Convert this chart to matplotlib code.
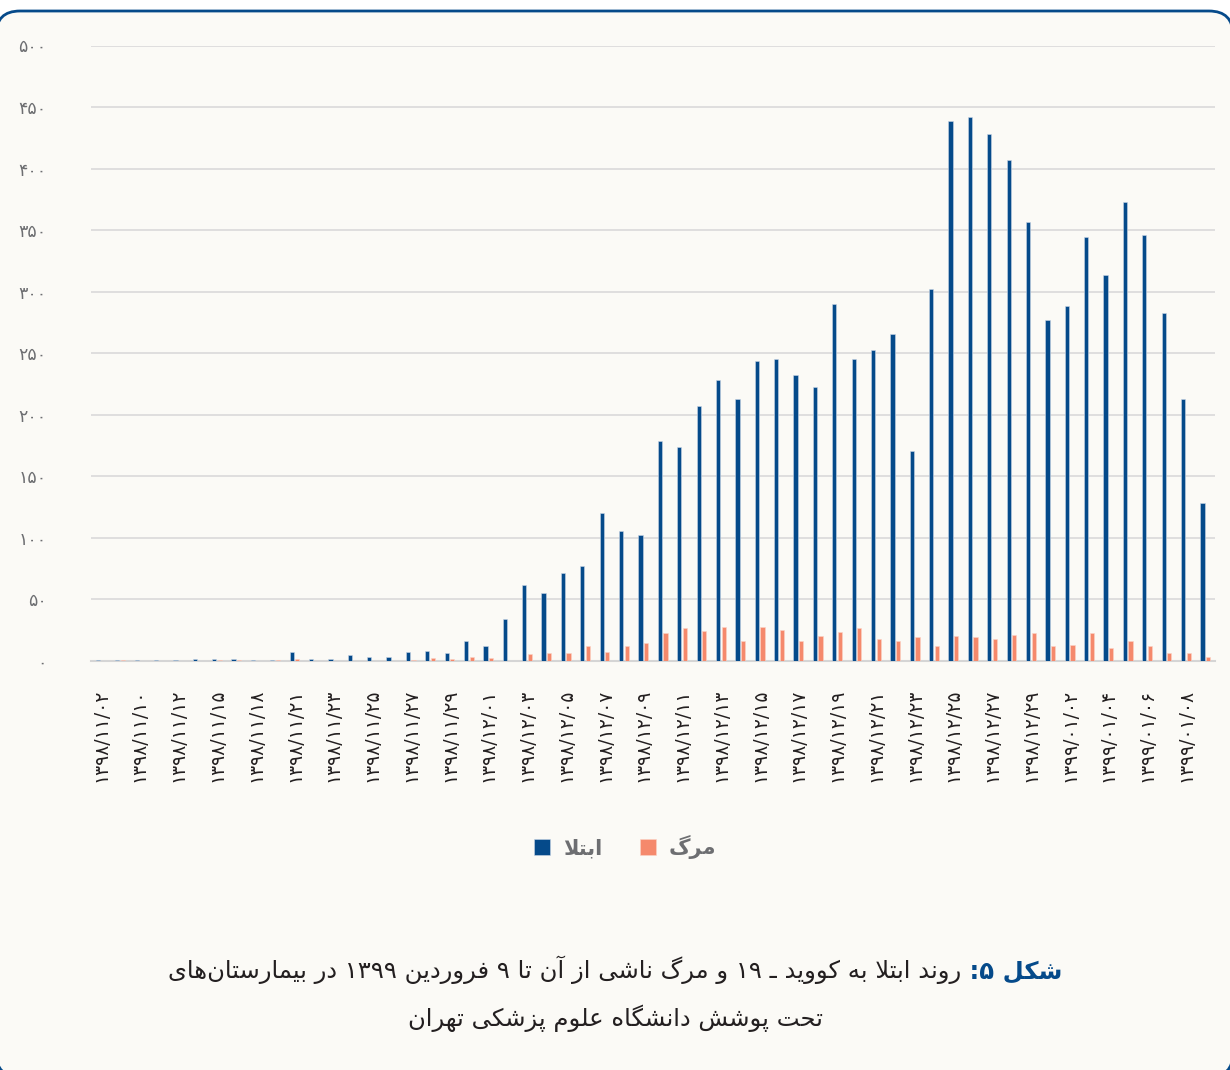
import matplotlib
matplotlib.use('Agg')
import matplotlib.pyplot as plt
import numpy as np
from matplotlib.patches import FancyBboxPatch
from matplotlib.offsetbox import TextArea, HPacker, AnnotationBbox

# data: daily counts from 1398/11/02 to 1399/01/09
dates = ['۱۳۹۸/۱۱/۰۲', '', '۱۳۹۸/۱۱/۱۰', '', '۱۳۹۸/۱۱/۱۲', '', '۱۳۹۸/۱۱/۱۵', '',
         '۱۳۹۸/۱۱/۱۸', '', '۱۳۹۸/۱۱/۲۱', '', '۱۳۹۸/۱۱/۲۳', '', '۱۳۹۸/۱۱/۲۵', '',
         '۱۳۹۸/۱۱/۲۷', '', '۱۳۹۸/۱۱/۲۹', '', '۱۳۹۸/۱۲/۰۱', '', '۱۳۹۸/۱۲/۰۳', '',
         '۱۳۹۸/۱۲/۰۵', '', '۱۳۹۸/۱۲/۰۷', '', '۱۳۹۸/۱۲/۰۹', '', '۱۳۹۸/۱۲/۱۱', '',
         '۱۳۹۸/۱۲/۱۳', '', '۱۳۹۸/۱۲/۱۵', '', '۱۳۹۸/۱۲/۱۷', '', '۱۳۹۸/۱۲/۱۹', '',
         '۱۳۹۸/۱۲/۲۱', '', '۱۳۹۸/۱۲/۲۳', '', '۱۳۹۸/۱۲/۲۵', '', '۱۳۹۸/۱۲/۲۷', '',
         '۱۳۹۸/۱۲/۲۹', '', '۱۳۹۹/۰۱/۰۲', '', '۱۳۹۹/۰۱/۰۴', '', '۱۳۹۹/۰۱/۰۶', '',
         '۱۳۹۹/۰۱/۰۸', '']

infected = [1, 1, 1, 1, 1, 2, 2, 2, 1, 1,
            7, 2, 2, 5, 3, 3, 7, 8.5, 6.3, 16.5,
            12.3, 34.5, 61.6, 55.6, 71.5, 76.8, 120.4, 105.6, 102.1, 178.5,
            173.6, 207.4, 228.5, 212.7, 243.7, 245.4, 232.4, 222.9, 289.8, 245.4,
            252.8, 265.5, 170.8, 301.8, 438.7, 442.3, 427.8, 406.7, 356.3, 277.1,
            288.4, 344.7, 313.7, 372.9, 345.8, 282.7, 212.7, 128.5]

deaths = [0, 1, 0, 0, 0, 0, 1, 1, 0, 1,
          1.5, 0, 0, 0, 0, 0, 1, 2.8, 1.4, 3.5,
          2.5, 0, 5.6, 6.7, 6.7, 12.3, 7.7, 12.3, 14.4, 22.5,
          26.8, 24.6, 27.8, 16.5, 27.8, 25.4, 16.5, 20.4, 23.9, 26.8,
          17.6, 16.5, 19.4, 12.3, 20.4, 19.4, 17.6, 21.5, 22.5, 12.3,
          13.4, 22.5, 10.6, 16.5, 12.3, 6.3, 6.3, 3.5]

series_names = ['ابتلا', 'مرگ']
caption_head = 'شکل ۵:'
caption_rest = 'روند ابتلا به کووید ـ ۱۹ و مرگ ناشی از آن تا ۹ فروردین ۱۳۹۹ در بیمارستان\u200cهای'
caption_line2 = 'تحت پوشش دانشگاه علوم پزشکی تهران'

BLUE = '#054a8a'
ORANGE = '#f5896c'
BG = '#fbfaf6'

# small persian shaper, matplotlib has no arabic text layout
BASE = {'\u0622': (0xFE81, 2), '\u0627': (0xFE8D, 2), '\u062F': (0xFEA9, 2),
        '\u0631': (0xFEAD, 2), '\u0632': (0xFEAF, 2), '\u0648': (0xFEED, 2),
        '\u0628': (0xFE8F, 4), '\u062A': (0xFE95, 4), '\u062D': (0xFEA1, 4),
        '\u0633': (0xFEB1, 4), '\u0634': (0xFEB5, 4), '\u0639': (0xFEC9, 4),
        '\u0641': (0xFED1, 4), '\u0644': (0xFEDD, 4), '\u0645': (0xFEE1, 4),
        '\u0646': (0xFEE5, 4), '\u0647': (0xFEE9, 4), '\u067E': (0xFB56, 4),
        '\u06A9': (0xFB8E, 4), '\u06AF': (0xFB92, 4), '\u06CC': (0xFBFC, 4)}
LAM_ALEF = {'\u0627': 0xFEFB, '\u0622': 0xFEF5}
DIGITS = '0123456789۰۱۲۳۴۵۶۷۸۹'


def jtype(t):
    if t is None:
        return None
    if isinstance(t, tuple):
        return 'R'
    if t == '\u0640':
        return 'D'
    if t in BASE:
        return 'D' if BASE[t][1] == 4 else 'R'
    return None


def shape(s):
    tokens = []
    i = 0
    while i < len(s):
        if s[i] == '\u0644' and i + 1 < len(s) and s[i + 1] in LAM_ALEF:
            tokens.append(('LA', s[i + 1]))
            i += 2
        else:
            tokens.append(s[i])
            i += 1
    out = []
    for k, t in enumerate(tokens):
        prev = tokens[k - 1] if k > 0 else None
        nxt = tokens[k + 1] if k + 1 < len(tokens) else None
        jt = jtype(t)
        p = jt is not None and jtype(prev) == 'D'
        n = jt == 'D' and jtype(nxt) in ('D', 'R')
        if isinstance(t, tuple):
            out.append(chr(LAM_ALEF[t[1]] + (1 if p else 0)))
        elif t in BASE:
            idx = 3 if (p and n) else 1 if p else 2 if n else 0
            out.append(chr(BASE[t][0] + idx))
        elif t == '\u200c':
            continue
        else:
            out.append(t)
    # visual order: reverse, but keep numbers left to right
    vis = out[::-1]
    res, run = [], []
    for c in vis:
        if c in DIGITS:
            run.append(c)
        else:
            res.extend(run[::-1])
            run = []
            res.append(c)
    res.extend(run[::-1])
    return ''.join(res)


def fa_num(v):
    return str(v).translate(str.maketrans('0123456789', '۰۱۲۳۴۵۶۷۸۹'))


plt.rcParams['font.family'] = ['DejaVu Sans']

fig = plt.figure(figsize=(12.3, 10.7), dpi=100, facecolor='white')

# page frame with rounded corners (sides run just outside the picture)
frame = FancyBboxPatch((-4, -7), 1237, 1066, boxstyle='round,pad=0,rounding_size=24',
                       transform=None, facecolor=BG, edgecolor=BLUE, linewidth=2.0, zorder=-5)
fig.patches.append(frame)

ax = fig.add_axes([91 / 1230, 1 - 661 / 1070, 1124 / 1230, 615.5 / 1070])
ax.set_facecolor('none')

x = np.arange(len(infected))
w = 0.22
ax.bar(x - 0.145, infected, w, color=BLUE, edgecolor='#c9d6e6', linewidth=0.4,
       label=shape(series_names[0]), zorder=3)
ax.bar(x + 0.145, deaths, w, color=ORANGE, edgecolor='#fbd3c6', linewidth=0.4,
       label=shape(series_names[1]), zorder=3)

ax.set_xlim(-0.5, len(infected) - 0.5)
ax.set_ylim(0, 500)
ax.set_yticks(range(0, 501, 50))
ax.set_yticklabels([fa_num(v) for v in range(0, 501, 50)], color='#6d6e71', fontsize=12.5)
ax.set_xticks(x)
ax.set_xticklabels(dates, rotation=90, fontsize=13.5, color='#231f20')
ax.tick_params(axis='y', length=0, pad=32)
ax.tick_params(axis='x', length=0, pad=20)
ax.grid(axis='y', color='#dcdcdc', linewidth=1.3, zorder=0)
ax.set_axisbelow(True)
for side in ['top', 'right', 'left']:
    ax.spines[side].set_visible(False)
ax.spines['bottom'].set_color('#d5d5d5')
ax.spines['bottom'].set_linewidth(1.5)

leg = fig.legend(loc='center', bbox_to_anchor=(625 / 1230, 1 - 847 / 1070), ncol=2,
                 frameon=False, handlelength=0.8, handleheight=0.8, handletextpad=0.6,
                 columnspacing=1.8,
                 prop={'size': 15, 'weight': 'bold'})
for t in leg.get_texts():
    t.set_color('#6d6e71')

# caption, first line has a blue bold head on the right
rest = TextArea(shape(caption_rest), textprops=dict(fontsize=17.5, color='#231f20'))
head = TextArea(' ' + shape(caption_head), textprops=dict(fontsize=17.5, color=BLUE, fontweight='bold'))
line1 = HPacker(children=[rest, head], align='baseline', pad=0, sep=0)
ab = AnnotationBbox(line1, (615 / 1230, 1 - 970 / 1070), xycoords='figure fraction',
                    box_alignment=(0.5, 0.5), frameon=False)
fig.add_artist(ab)
fig.text(615 / 1230, 1 - 1018 / 1070, shape(caption_line2), fontsize=17.5, color='#231f20',
         ha='center', va='center')

fig.savefig('out.png', dpi=100, facecolor='white')
